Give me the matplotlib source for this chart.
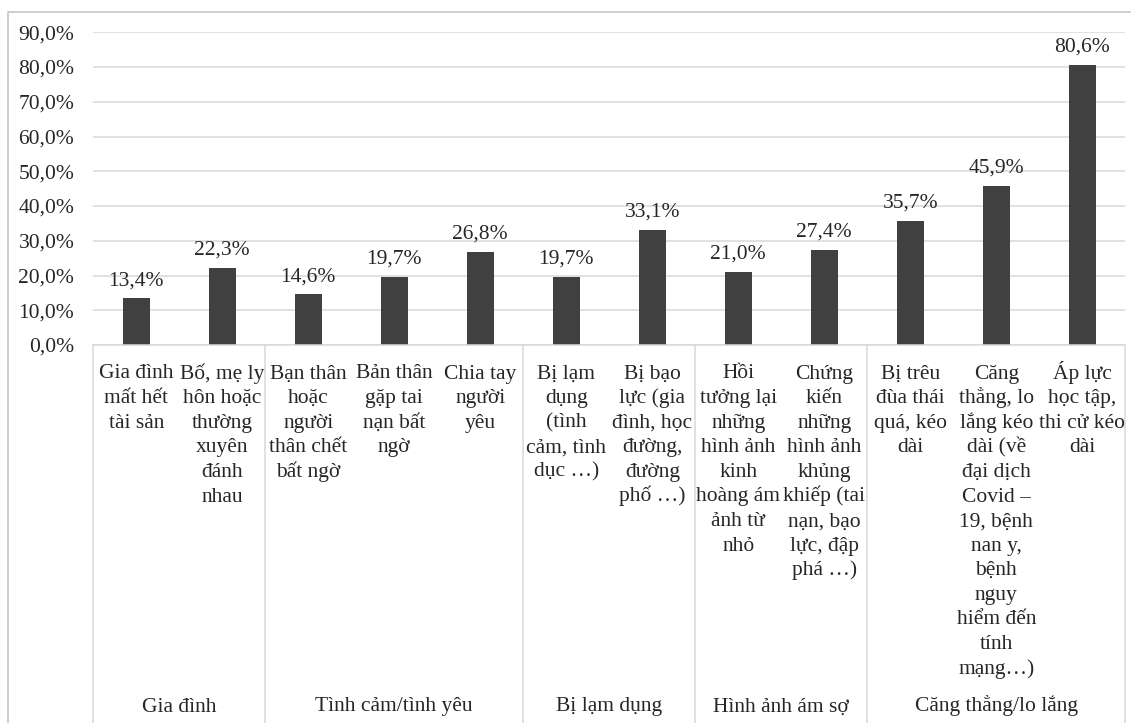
import matplotlib
matplotlib.use("Agg")
import matplotlib.pyplot as plt
from matplotlib.lines import Line2D
from matplotlib.transforms import blended_transform_factory

# ---- data ----
categories = [
    "Gia đình\nmất hết\ntài sản",
    "Bố, mẹ ly\nhôn hoặc\nthường\nxuyên\nđánh\nnhau",
    "Bạn thân\nhoặc\nngười\nthân chết\nbất ngờ",
    "Bản thân\ngặp tai\nnạn bất\nngờ",
    "Chia tay\nngười\nyêu",
    "Bị lạm\ndụng\n(tình\ncảm, tình\ndục …)",
    "Bị bạo\nlực (gia\nđình, học\nđường,\nđường\nphố …)",
    "Hồi\ntưởng lại\nnhững\nhình ảnh\nkinh\nhoàng ám\nảnh từ\nnhỏ",
    "Chứng\nkiến\nnhững\nhình ảnh\nkhủng\nkhiếp (tai\nnạn, bạo\nlực, đập\nphá …)",
    "Bị trêu\nđùa thái\nquá, kéo\ndài",
    "Căng\nthẳng, lo\nlắng kéo\ndài (về\nđại dịch\nCovid –\n19, bệnh\nnan y,\nbệnh\nnguy\nhiểm đến\ntính\nmạng…)",
    "Áp lực\nhọc tập,\nthi cử kéo\ndài",
]
values = [13.4, 22.3, 14.6, 19.7, 26.8, 19.7, 33.1, 21.0, 27.4, 35.7, 45.9, 80.6]
groups = ["Gia đình", "Tình cảm/tình yêu", "Bị lạm dụng", "Hình ảnh ám sợ", "Căng thẳng/lo lắng"]
group_sizes = [2, 3, 2, 2, 3]
y_ticks = [0, 10, 20, 30, 40, 50, 60, 70, 80, 90]


def pct(v):
    return f"{v:.1f}%".replace(".", ",")


W, H = 1131, 723
FONT = "Liberation Serif"
FS = 15.5
TXT = "#262626"
BAR = "#404040"
GRID = "#d9d9d9"

fig = plt.figure(figsize=(W / 100, H / 100), dpi=100)
fig.patch.set_facecolor("white")

x0, x1 = 93.3, 1125.3
y_top, y_base = 32.3, 345.0
ax = fig.add_axes([x0 / W, 1 - y_base / H, (x1 - x0) / W, (y_base - y_top) / H])

n = len(values)
xs = list(range(n))
ax.bar(xs, values, width=0.32, color=BAR, zorder=3)
ax.set_xlim(-0.5, n - 0.5)
ax.set_ylim(0, 90)

ax.set_yticks(y_ticks)
ax.set_yticklabels([pct(v) for v in y_ticks], fontfamily=FONT, fontsize=FS, color=TXT)
ax.tick_params(axis="y", length=0, pad=13.7)
ax.set_xticks([])
ax.yaxis.grid(True, color=GRID, linewidth=1.1, zorder=0)
ax.set_axisbelow(True)
for s in ax.spines.values():
    s.set_visible(False)

# value labels above bars
for i, v in enumerate(values):
    ax.annotate(pct(v), (i, v), xytext=(0, 9.5), textcoords="offset points",
                ha="center", va="baseline", fontfamily=FONT, fontsize=FS, color=TXT)

# category labels, one line at a time for even spacing
trans = blended_transform_factory(ax.transData, fig.transFigure)
first_base, line_gap = 378.5, 24.6
for i, lab in enumerate(categories):
    for k, line in enumerate(lab.split("\n")):
        ax.text(i, 1 - (first_base + k * line_gap) / H, line, transform=trans,
                ha="center", va="baseline", fontfamily=FONT, fontsize=FS,
                color=TXT, clip_on=False)

# group separators and group labels
edges = [-0.5]
for g in group_sizes:
    edges.append(edges[-1] + g)
for e in edges:
    ax.add_line(Line2D([e, e], [1 - y_base / H, 0], transform=trans,
                       color=GRID, linewidth=1.1, clip_on=False))
ax.add_line(Line2D([-0.5, n - 0.5], [1 - y_base / H] * 2, transform=trans,
                   color=GRID, linewidth=1.1, clip_on=False, zorder=4))
for g, a, b in zip(groups, edges[:-1], edges[1:]):
    ax.text((a + b) / 2, 1 - 711.5 / H, g, transform=trans, ha="center",
            va="baseline", fontfamily=FONT, fontsize=FS, color=TXT, clip_on=False)

# chart frame
fig.add_artist(Line2D([8.3 / W, 8.3 / W, 1.0], [0.0, 1 - 11.7 / H, 1 - 11.7 / H],
                      transform=fig.transFigure, color="#c6c6c6", linewidth=1.2))

fig.savefig("out.png", dpi=100, facecolor="white")
